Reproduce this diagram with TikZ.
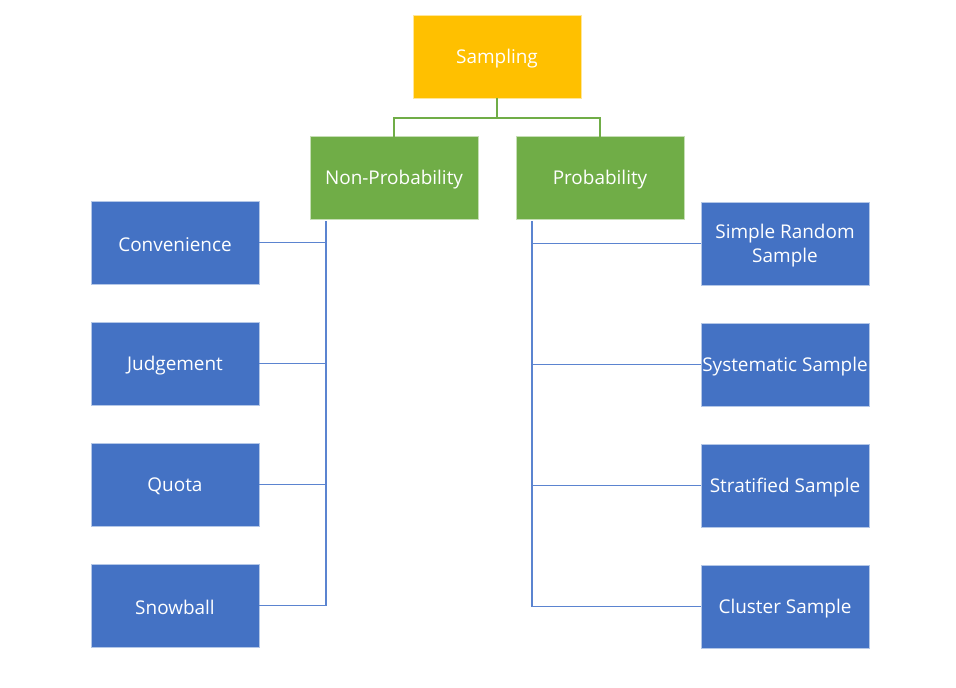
\documentclass[tikz,border=0pt]{standalone}
\usepackage{fontspec}
\setmainfont{Open Sans}
\definecolor{sampY}{HTML}{FFC000}
\definecolor{grn}{HTML}{70AD47}
\definecolor{blu}{HTML}{4472C4}
\definecolor{lineblu}{HTML}{5B84D0}
\newcommand{\lowtxt}[1]{\raisebox{-1.5pt}[\height][\depth]{#1}}
\begin{document}
\begin{tikzpicture}[x=0.75pt,y=-0.75pt,
  box/.style={minimum width=126pt,minimum height=62.25pt,inner sep=0pt,text=white,
     font=\fontsize{14.2}{18}\selectfont,align=center,draw=white!60!#1,line width=0.4pt,fill=#1},
  gline/.style={draw=grn,line width=0.9pt},
  bline/.style={draw=lineblu,line width=0.9pt}]
\useasboundingbox (0,0) rectangle (956,687);
\node[box=sampY] (s) at (497,56.5) {\lowtxt{Sampling}};
\node[box=grn] (np) at (394,177.5) {\lowtxt{Non-Probability}};
\node[box=grn] (p) at (600,177.5) {\lowtxt{Probability}};
\node[box=blu] (c1) at (175,242.5) {\lowtxt{Convenience}};
\node[box=blu] (c2) at (175,363.5) {\lowtxt{Judgement}};
\node[box=blu] (c3) at (175,484.5) {\lowtxt{Quota}};
\node[box=blu] (c4) at (175,605.5) {\lowtxt{Snowball}};
\node[box=blu] (r1) at (785,243.5) {\lowtxt{Simple Random}\\\lowtxt{Sample}};
\node[box=blu] (r2) at (785,364.5) {\lowtxt{Systematic Sample}};
\node[box=blu] (r3) at (785,485.5) {\lowtxt{Stratified Sample}};
\node[box=blu] (r4) at (785,606.5) {\lowtxt{Cluster Sample}};
% green connectors
\coordinate (mid) at (497,118);
\draw[gline] (s.south) -- (mid);
\draw[gline] ([yshift=-1.5pt]np.north) -- (np.north |- mid) -- (p.north |- mid) -- ([yshift=-1.5pt]p.north);
% left trunk
\coordinate (tl) at (326,221);
\draw[bline] (tl) -- (tl |- c4.east);
\foreach \n in {c1,c2,c3,c4} \draw[bline] (\n.east) -- (\n.east -| tl);
% right trunk
\coordinate (tr) at (532,221);
\draw[bline] (tr) -- (tr |- r4.west);
\foreach \n in {r1,r2,r3,r4} \draw[bline] (\n.west) -- (\n.west -| tr);
\end{tikzpicture}
\end{document}
